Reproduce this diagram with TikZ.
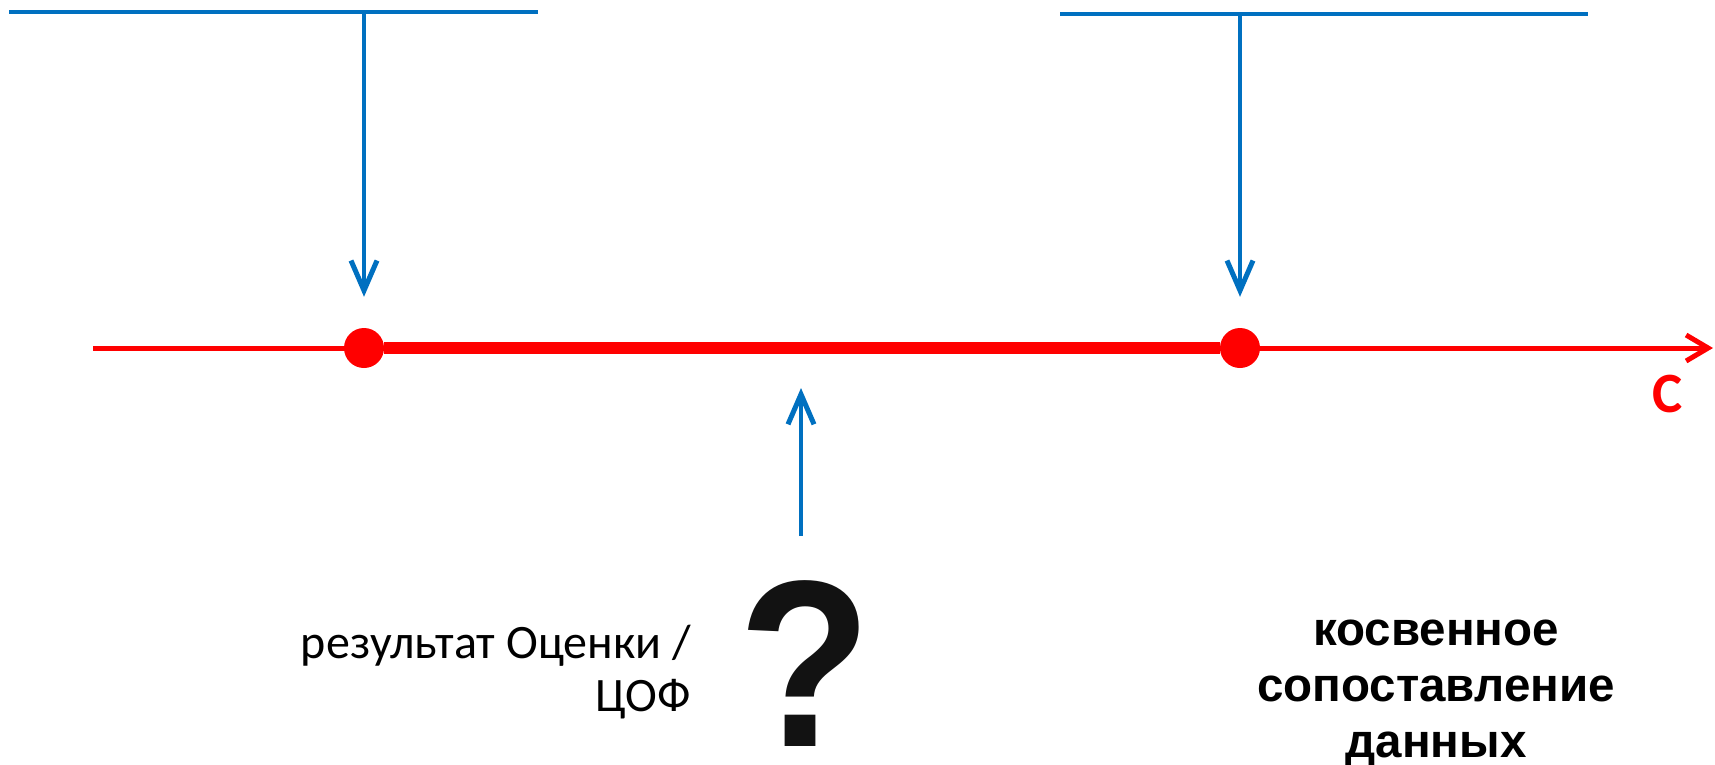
\documentclass[tikz,border=0pt]{standalone}
\usepackage{fontspec}
\setmainfont{Carlito}
\newfontfamily\boldsans{Liberation Sans}
\usetikzlibrary{arrows.meta}
\definecolor{pointer}{HTML}{0070C0}
\tikzset{
  bar/.style={pointer, line width=4.5pt},
  pointerarrow/.style={pointer, line width=3.5pt, -{Straight Barb[length=30pt,width=26pt,line width=5pt]}},
  axis/.style={red, line width=5pt, -{Straight Barb[length=22pt,width=26pt,line width=5pt]}},
  dot/.style={circle, fill=red, minimum size=40pt, inner sep=0pt},
}

\begin{document}
\begin{tikzpicture}[x=1pt,y=-1pt]
  \useasboundingbox (0,0) rectangle (1715,764);
  \coordinate (barAw) at (9,12);
  \coordinate (barAe) at (538,12);
  \coordinate (barAm) at (364,12);
  \coordinate (barBw) at (1060,14);
  \coordinate (barBe) at (1588,14);
  \coordinate (barBm) at (1240,14);
  \coordinate (axstart) at (93,348);
  \coordinate (axend) at (1713,348);
  \coordinate (qfoot) at (801,536);
  \coordinate (qhead) at (801,388);
  \draw[bar] (barAw) -- (barAe);
  \draw[bar] (barBw) -- (barBe);
  \draw[axis] (axstart) -- (axend);
  \node[dot] (lo) at (364,348) {};
  \node[dot] (hi) at (1240,348) {};
  \draw[red, line width=12pt] (lo) -- (hi);
  \draw[pointerarrow, shorten >=31pt] (barAm) -- (lo);
  \draw[pointerarrow, shorten >=31pt] (barBm) -- (hi);
  \draw[pointerarrow] (qfoot) -- (qhead);
  \node[red, font=\bfseries\fontsize{57}{57}\selectfont] (price) at (1668,394) {С};
  \node[anchor=north east, align=right, inner sep=0pt, font=\fontsize{48}{53}\selectfont] (result) at (691,625) {результат Оценки /\\ЦОФ};
  \node[inner sep=0pt, yscale=1.09, text=black!93, font=\boldsans\bfseries\fontsize{218}{218}\selectfont] (query) at (805,664) {?};
  \node[anchor=north, align=center, inner sep=0pt, font=\boldsans\bfseries\fontsize{47.5}{56}\selectfont] (indirect) at (1436,620) {косвенное\\сопоставление\\данных};
\end{tikzpicture}
\end{document}
